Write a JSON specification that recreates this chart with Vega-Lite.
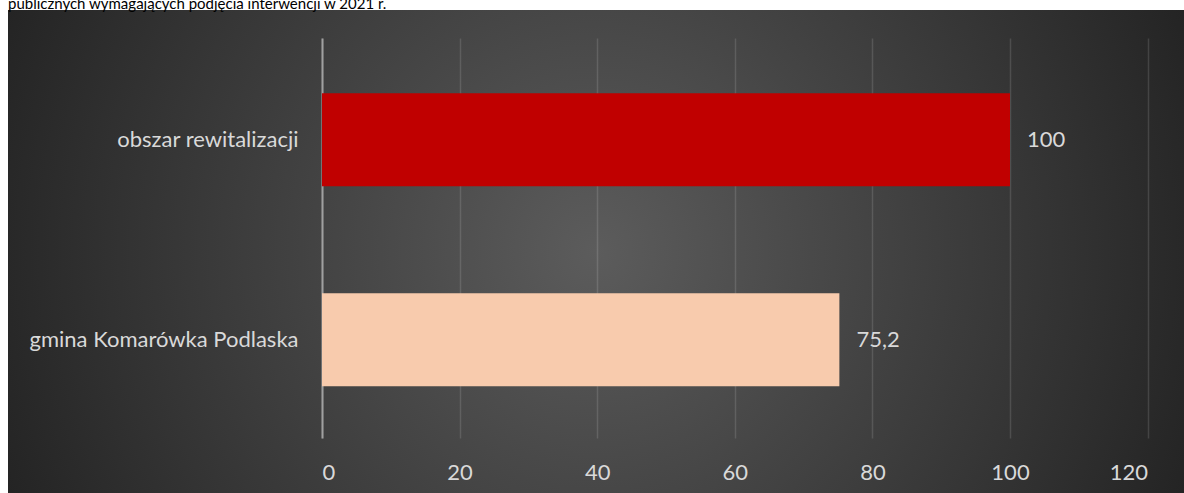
{
  "$schema": "https://vega.github.io/schema/vega-lite/v6.json",
  "width": 1176,
  "height": 483,
  "autosize": {"type": "none"},
  "padding": {"left": 8, "top": 10, "right": 0, "bottom": 0},
  "background": "white",
  "title": {
    "text": "publicznych wymagających podjęcia interwencji w 2021 r.",
    "anchor": "start",
    "frame": "group",
    "orient": "top",
    "offset": 0,
    "baseline": "alphabetic",
    "dy": 14,
    "font": "Lato",
    "fontSize": 15,
    "fontWeight": "normal",
    "color": "#000000"
  },
  "config": {
    "locale": {"number": {"decimal": ",", "thousands": " ", "grouping": [3], "currency": ["", " zł"]}},
    "font": "Lato",
    "view": {
      "stroke": null,
      "fill": {
        "gradient": "radial",
        "x1": 0.5, "y1": 0.5, "r1": 0,
        "x2": 0.5, "y2": 0.5, "r2": 0.55,
        "stops": [
          {"offset": 0, "color": "#5c5c5c"},
          {"offset": 1, "color": "#232323"}
        ]
      }
    }
  },
  "data": {
    "values": [
      {"obszar": "obszar rewitalizacji", "wartosc": 100},
      {"obszar": "gmina Komarówka Podlaska", "wartosc": 75.2}
    ]
  },
  "encoding": {
    "y": {
      "field": "obszar",
      "type": "nominal",
      "sort": null,
      "scale": {"range": [28, 428], "paddingInner": 0.535, "paddingOuter": 0.2675, "align": 0.517},
      "axis": {
        "title": null,
        "orient": "left",
        "offset": -314,
        "ticks": false,
        "tickSize": 0,
        "grid": false,
        "domain": true,
        "domainColor": "#a0a0a0",
        "domainWidth": 2,
        "labelPadding": 24,
        "labelFont": "Lato",
        "labelFontSize": 22,
        "labelColor": "#d9d9d9",
        "labelLimit": 500
      }
    },
    "x": {
      "field": "wartosc",
      "type": "quantitative",
      "scale": {"domain": [0, 120], "range": [314, 1139.6], "nice": false},
      "axis": {
        "title": null,
        "orient": "bottom",
        "offset": -55,
        "values": [0, 20, 40, 60, 80, 100, 120],
        "ticks": true,
        "tickSize": -400,
        "tickColor": "#ffffff",
        "tickOpacity": 0.13,
        "tickWidth": 1.5,
        "domain": false,
        "grid": false,
        "labelPadding": 424,
        "labelFont": "Lato",
        "labelFontSize": 22,
        "labelColor": "#d9d9d9"
      }
    }
  },
  "layer": [
    {
      "mark": {"type": "bar"},
      "encoding": {
        "color": {
          "field": "obszar",
          "type": "nominal",
          "scale": {"domain": ["obszar rewitalizacji", "gmina Komarówka Podlaska"], "range": ["#C00000", "#F8CBAD"]},
          "legend": null
        }
      }
    },
    {
      "mark": {"type": "text", "align": "left", "baseline": "middle", "dx": 17, "font": "Lato", "fontSize": 22, "color": "#d9d9d9"},
      "encoding": {
        "text": {"field": "wartosc", "type": "quantitative", "format": "~g"}
      }
    }
  ]
}
